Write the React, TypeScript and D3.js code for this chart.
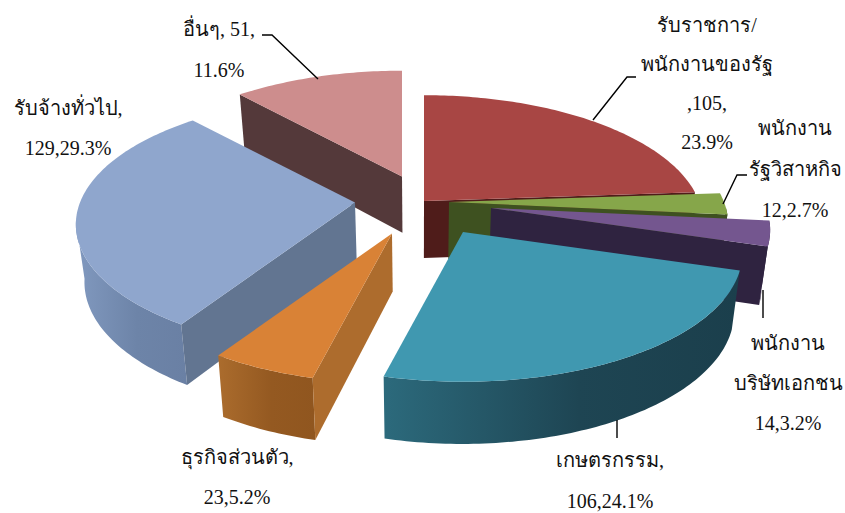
import React from "react";
import * as d3 from "d3";

const categories = ["รับราชการ/พนักงานของรัฐ", "พนักงานรัฐวิสาหกิจ", "พนักงานบริษัทเอกชน", "เกษตรกรรม", "ธุรกิจส่วนตัว", "รับจ้างทั่วไป", "อื่นๆ"];
const counts = [105, 12, 14, 106, 23, 129, 51];
const topColors = ["#a84644", "#86a64a", "#74568f", "#4098b0", "#d98236", "#8fa6cd", "#cd8d8d"];
const cutColors = ["#4f1c1a", "#3e5120", "#2f2340", "#1c4050", "#ad6c2d", "#627591", "#54393a"];
const wallStops = [
  ["#4f1c1a", "#4f1c1a"],
  ["#3e5120", "#3e5120"],
  ["#2f2340", "#2f2340"],
  ["#2c6a7c", "#1b3f4c"],
  ["#ab6c2d", "#90561f"],
  ["#8199bf", "#6a80a4"],
  ["#54393a", "#54393a"],
];

const labelLines = [
  ["รับราชการ/", "พนักงานของรัฐ", ",105,", "23.9%"],
  ["พนักงาน", "รัฐวิสาหกิจ", "12,2.7%"],
  ["พนักงาน", "บริษัทเอกชน", "14,3.2%"],
  ["เกษตรกรรม,", "106,24.1%"],
  ["ธุรกิจส่วนตัว,", "23,5.2%"],
  ["รับจ้างทั่วไป,", "129,29.3%"],
  ["อื่นๆ, 51,", "11.6%"],
];

// layout
const apexes = [[424, 201], [449, 202], [491, 208], [463, 232], [392, 233.5], [355, 202.5], [402, 176.5]];
const labelAnchors = [[707, 32], [795, 135], [788, 350], [610, 467], [237, 464], [68, 115], [219, 36]];
const leaders = [
  [[593, 120], [627, 77], [636, 77]],
  [[723, 204], [737, 175], [747, 175]],
  [[763, 290], [763, 318]],
  [[617, 420], [617, 438]],
  [[318, 79], [272, 35], [262, 35]],
];
const RX = 275, RY = 124, PERSP = 0.172, DEPTH = 57, VANISH_X = 420;
const LINE_GAP = [39, 41, 40, 41, 40, 40, 41];

// perspective ellipse: theta clockwise from the top
const rim = (t: number): [number, number] => {
  const w = 1 + PERSP * Math.cos(t);
  return [(RX * Math.sin(t)) / w, (-RY * Math.cos(t)) / w];
};
const lower = ([x, y]: [number, number]): [number, number] => {
  const front = (y - 200) / 180;
  return [x + (VANISH_X - x) * 0.025, y + DEPTH * (1 + 0.09 * front)];
};
const rad = d3.scaleLinear().domain([0, 360]).range([0, Math.PI * 2]);
const line = d3.line();
const closed = (pts: [number, number][]) => line(pts) + "Z";

export default function App() {
  const arcs = d3.pie<number>().sort(null).value((d) => d)(counts);
  const order = [0, 1, 2, 3, 6, 5, 4];
  return (
    <svg width={845} height={513} style={{ position: "absolute", left: 0, top: 0, background: "#fff" }}>
      <defs>
        {wallStops.map((s, i) => (
          <linearGradient key={i} id={`wall${i}`} gradientUnits="objectBoundingBox" x1="0" x2="1" y1="0" y2="0">
            <stop offset="0" stopColor={s[0]} />
            <stop offset="0.55" stopColor={d3.interpolateRgb(s[0], s[1])(0.85)} />
            <stop offset="1" stopColor={s[1]} />
          </linearGradient>
        ))}
      </defs>
      {order.map((i) => {
        const a = arcs[i];
        const [ax, ay] = apexes[i];
        const at = (t: number): [number, number] => {
          const [x, y] = rim(t);
          return [ax + x, ay + y];
        };
        const steps = Math.max(2, Math.ceil((a.endAngle - a.startAngle) / rad(1)));
        const ts = d3.range(steps + 1).map((k) => a.startAngle + ((a.endAngle - a.startAngle) * k) / steps);
        const top = ts.map(at);
        const apex: [number, number] = [ax, ay];
        const wallTs = ts.filter((t) => t >= rad(92) && t <= rad(262));
        const wallTop = wallTs.map(at);
        const faces: [number, number][][] = [];
        if (Math.sin(a.startAngle) < 0) {
          const p = at(a.startAngle);
          faces.push([apex, p, lower(p), lower(apex)]);
        }
        if (Math.sin(a.endAngle) > 0) {
          const p = at(a.endAngle);
          faces.push([apex, p, lower(p), lower(apex)]);
        }
        return (
          <g key={categories[i]}>
            {wallTop.length > 1 && (
              <path d={closed([...wallTop, ...wallTop.map(lower).reverse()])} fill={`url(#wall${i})`} />
            )}
            {faces.map((f, k) => (
              <path key={k} d={closed(f)} fill={cutColors[i]} />
            ))}
            <path d={closed([apex, ...top])} fill={topColors[i]} />
          </g>
        );
      })}
      {leaders.map((pts, i) => (
        <path key={i} d={line(pts as [number, number][]) as string} fill="none" stroke="#000" strokeWidth={1.4} />
      ))}
      {labelLines.map((lines, i) => (
        <text key={i} textAnchor="middle" fontFamily="'Liberation Serif', serif" fontSize={20} fill="#111">
          {lines.map((t, k) => (
            <tspan key={k} x={labelAnchors[i][0]} y={labelAnchors[i][1] + k * LINE_GAP[i]}>
              {t}
            </tspan>
          ))}
        </text>
      ))}
    </svg>
  );
}
